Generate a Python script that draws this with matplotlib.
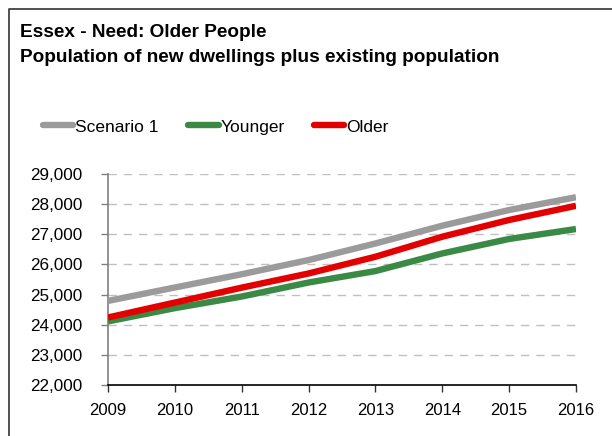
import matplotlib
matplotlib.use("Agg")
import matplotlib.pyplot as plt
from matplotlib.lines import Line2D
from matplotlib.ticker import FuncFormatter

plt.rcParams['font.family'] = ['Liberation Sans', 'DejaVu Sans']

years = [2009, 2010, 2011, 2012, 2013, 2014, 2015, 2016]
scenario_1 = [24790, 25235, 25675, 26145, 26695, 27285, 27805, 28230]
younger = [24110, 24550, 24935, 25400, 25780, 26365, 26845, 27175]
older = [24240, 24735, 25230, 25700, 26255, 26920, 27475, 27945]

series_names = ["Scenario 1", "Younger", "Older"]
series_colors = ["#9b9b9b", "#3a8a45", "#e30000"]
y_ticks = [22000, 23000, 24000, 25000, 26000, 27000, 28000, 29000]

W, H = 612, 436
fig = plt.figure(figsize=(W / 100, H / 100), dpi=100)
ax = fig.add_axes([108 / W, 1 - 385 / H, (576 - 108) / W, (385 - 174) / H])

for vals, name, col in zip([scenario_1, younger, older], series_names, series_colors):
    ax.plot(years, vals, color=col, lw=4.6, label=name, solid_capstyle='butt', zorder=3)

ax.set_xlim(years[0], years[-1])
ax.set_ylim(y_ticks[0], y_ticks[-1])
ax.set_xticks(years)
ax.set_yticks(y_ticks)
ax.yaxis.set_major_formatter(FuncFormatter(lambda v, p: f"{int(v):,}"))

for y in y_ticks[1:]:
    ax.axhline(y, color="#c0c0c0", lw=1.0, ls=(0, (6, 5)), zorder=1)

for s in ["top", "right"]:
    ax.spines[s].set_visible(False)
ax.spines["left"].set_color("#808080")
ax.spines["left"].set_linewidth(1.2)
ax.spines["bottom"].set_color("black")
ax.spines["bottom"].set_linewidth(1.2)
ax.tick_params(axis="y", direction="out", length=5, width=1, color="#808080",
               labelsize=12.3, pad=13.5, labelcolor="black")
ax.tick_params(axis="x", direction="out", length=5, width=1, color="#333333",
               labelsize=12, pad=8, labelcolor="black")

fig.text(20 / W, 1 - 37 / H, "Essex - Need: Older People", fontsize=13.7,
         fontweight="bold", ha="left", va="baseline")
fig.text(20 / W, 1 - 62 / H, "Population of new dwellings plus existing population",
         fontsize=13.7, fontweight="bold", ha="left", va="baseline")

handles, labels = ax.get_legend_handles_labels()
leg = fig.legend(handles, labels, loc="center left",
                 bbox_to_anchor=(43 / W, 1 - 127 / H), ncol=3, frameon=False,
                 fontsize=12.5, handlelength=1.75, handletextpad=0.1,
                 columnspacing=1.7, borderpad=0, borderaxespad=0)
for lh in leg.get_lines():
    lh.set_linewidth(4.6)
    lh.set_solid_capstyle('round')

# outer frame: top and left edges
fig.add_artist(Line2D([9 / W, 9 / W, 1.0], [0.0, 1 - 9 / H, 1 - 9 / H],
                      transform=fig.transFigure, color="#333333", lw=1.2))

fig.savefig("out.png", dpi=100)
